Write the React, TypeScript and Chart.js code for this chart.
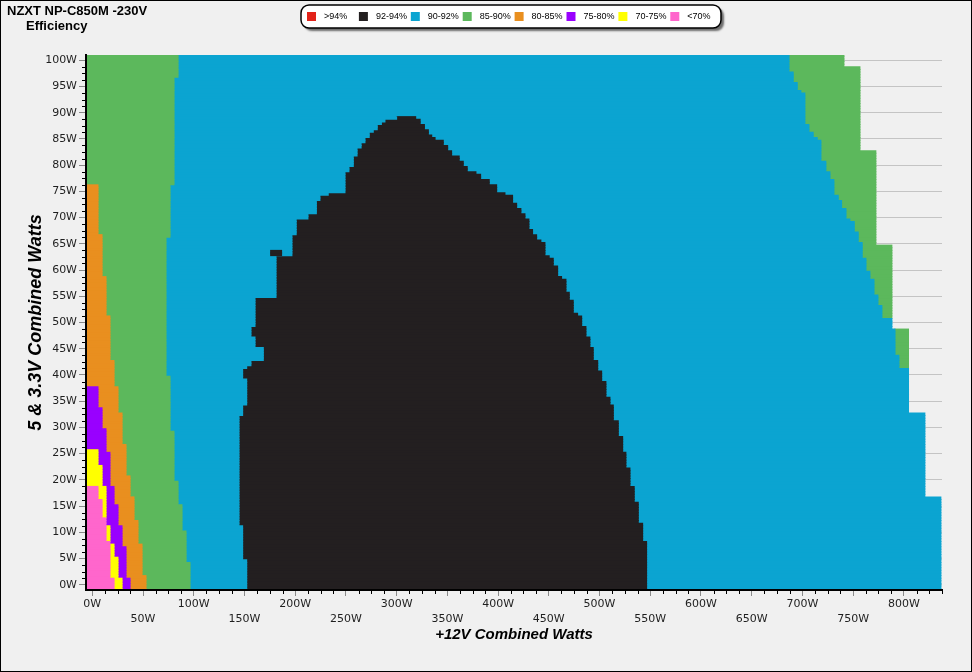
import React, { useEffect, useRef } from 'react';
import { Chart, registerables } from 'chart.js';

Chart.register(...registerables);

// ---------- axis ranges & ticks ----------
const X_MIN = -6.2;
const X_MAX = 837.6;
const Y_MIN = -1;
const Y_MAX = 101;
const ROW_STEP = 0.5;

const xTickValues = [0, 50, 100, 150, 200, 250, 300, 350, 400, 450, 500, 550, 600, 650, 700, 750, 800];
const xTickLabels = ['0W', '50W', '100W', '150W', '200W', '250W', '300W', '350W', '400W', '450W', '500W', '550W', '600W', '650W', '700W', '750W', '800W'];
const yTickValues = [0, 5, 10, 15, 20, 25, 30, 35, 40, 45, 50, 55, 60, 65, 70, 75, 80, 85, 90, 95, 100];
const yTickLabels = ['0W', '5W', '10W', '15W', '20W', '25W', '30W', '35W', '40W', '45W', '50W', '55W', '60W', '65W', '70W', '75W', '80W', '85W', '90W', '95W', '100W'];
const X_MINOR_STEP = 12.5;
const Y_MINOR_STEP = 1.25;

// ---------- legend ----------
const legendLabels = ['>94%', '92-94%', '90-92%', '85-90%', '80-85%', '75-80%', '70-75%', '<70%'];
const legendColors = ['#e2231a', '#231f20', '#0ba4d1', '#5cb85c', '#e98f1f', '#9900ff', '#ffff00', '#ff66cc'];

// ---------- region boundaries ----------
// Each list: [5V&3.3V load (W) from which it applies, +12V load (W) where the colour band ends]
type Step = [number, number | null];

const pinkEnd: Step[] = [[-1, 21.4], [1.5, 17.4], [8.5, 13.5], [12.6, 9.6], [16.1, 5.6], [19.0, null]];
const yellowEnd: Step[] = [[-1, 29.3], [1.1, 25.3], [5.1, 21.4], [7.9, 17.4], [11.1, 13.5], [19.0, 9.6], [23.0, 5.6], [25.9, null]];
const purpleEnd: Step[] = [[-1, 37.2], [1.1, 33.2], [7.1, 29.3], [11.1, 25.3], [15.1, 21.4], [19.0, 17.4], [25.1, 13.5], [29.8, 9.6], [34.0, 5.6], [38.0, null]];
const orangeEnd: Step[] = [[-1, 52.9], [1.9, 49.0], [7.9, 45.0], [12.1, 41.1], [17.0, 37.2], [21.0, 33.2], [27.0, 29.3], [33.0, 25.3], [38.0, 21.4], [43.0, 17.4], [51.1, 13.5], [58.9, 9.6], [67.0, 5.6], [76.1, null]];
const greenEnd: Step[] = [[-1, 96.3], [4.1, 92.4], [10.1, 88.4], [15.2, 84.5], [20.0, 80.5], [29.1, 76.6], [40.0, 72.6], [66.2, 76.6], [76.1, 80.5], [96.6, 84.5]];
const blueEnd: Step[] = [[-1, 152.2], [4.9, 148.2], [11.1, 144.6], [32.1, 148.2], [34.1, 152.2], [39.2, 148.2], [41.1, 152.2], [42.0, 156.4], [43.0, 168.6], [45.5, 160.4], [47.1, 156.4], [49.1, 160.4], [55.0, 181.1], [63.0, 196.8], [67.0, 201.0], [70.0, 212.6], [71.0, 220.9], [73.1, 224.4], [74.1, 232.6], [75.0, 249.1], [79.0, 253.0], [80.0, 257.3], [81.6, 261.0], [83.2, 265.0], [84.1, 268.8], [85.1, 273.0], [86.1, 277.0], [87.0, 280.9], [87.6, 285.0], [88.2, 288.5], [88.6, 292.7], [89.0, 300.0], [89.5, null]];
const blackEnd: Step[] = [[-1, 546.4], [8.1, 542.5], [12.0, 538.2], [16.0, 534.2], [19.0, 530.0], [22.1, 526.0], [25.1, 522.8], [28.1, 518.5], [31.1, 513.6], [34.1, 510.3], [36.0, 506.3], [39.0, 502.1], [41.0, 498.2], [43.0, 493.8], [45.2, 490.5], [47.1, 486.6], [49.2, 482.4], [51.1, 478.4], [52.0, 474.1], [54.1, 470.2], [56.0, 466.9], [58.1, 462.6], [59.0, 458.7], [61.0, 454.4], [62.1, 450.4], [63.0, 446.2], [65.1, 442.2], [66.0, 438.0], [67.0, 434.0], [68.0, 430.4], [70.0, 426.5], [71.0, 422.5], [72.0, 418.3], [73.0, 414.3], [74.1, 406.8], [75.0, 398.6], [76.2, 391.3], [77.1, 382.8], [78.1, 378.2], [79.0, 369.6], [80.0, 365.7], [81.0, 361.7], [81.9, 354.2], [82.9, 350.3], [83.8, 346.0], [84.8, 337.9], [85.2, 334.6], [85.7, 331.3], [86.7, 327.4], [87.6, 323.2], [88.9, 318.8], [89.5, null]];
const blue2End: Step[] = [[-1, 836.5], [16.9, 820.7], [32.9, 804.6], [41.1, 795.1], [44.0, 791.2], [48.9, 788.2], [51.0, 778.3], [53.1, 774.4], [55.1, 770.5], [58.1, 766.5], [60.0, 762.6], [62.1, 758.9], [65.1, 755.0], [67.1, 751.1], [69.2, 746.8], [70.0, 742.9], [72.0, 738.6], [73.1, 735.3], [74.1, 731.0], [77.1, 727.1], [79.0, 723.1], [80.6, 718.2], [84.6, 714.6], [85.5, 710.6], [86.5, 706.4], [87.7, 702.4], [93.7, 698.5], [94.5, 694.9], [95.7, 690.9], [97.6, 686.7]];
const green2End: Step[] = [[-1, null], [41.1, 804.6], [48.9, null], [51.0, 788.2], [65.0, 772.4], [82.9, 756.7], [98.9, 740.9]];

// small isolated 92-94% patch
const blackIslandY = [63.0, 64.0];
const blackIslandX = [175.8, 186.6];

// ---------- build floating bars ----------
const COLORS = {
  pink: '#ff66cc', yellow: '#ffff00', purple: '#9900ff', orange: '#e98f1f',
  green: '#5cb85c', blue: '#0ba4d1', black: '#231f20',
};

const bands: { label: string; steps: Step[]; color: string }[] = [
  { label: '<70%', steps: pinkEnd, color: COLORS.pink },
  { label: '70-75%', steps: yellowEnd, color: COLORS.yellow },
  { label: '75-80%', steps: purpleEnd, color: COLORS.purple },
  { label: '80-85%', steps: orangeEnd, color: COLORS.orange },
  { label: '85-90%', steps: greenEnd, color: COLORS.green },
  { label: '90-92%', steps: blueEnd, color: COLORS.blue },
  { label: '92-94%', steps: blackEnd, color: COLORS.black },
  { label: '90-92% ', steps: blue2End, color: COLORS.blue },
  { label: '85-90% ', steps: green2End, color: COLORS.green },
];

function stepAt(steps: Step[], y: number): number | null {
  let v: number | null = null;
  for (const [from, x] of steps) {
    if (y >= from - 1e-9) v = x;
    else break;
  }
  return v;
}

function buildDatasets() {
  const rowCount = Math.round((Y_MAX - Y_MIN) / ROW_STEP);
  const data: { x: [number, number]; y: number }[][] = bands.map(() => []);
  const island: { x: [number, number]; y: number }[] = [];
  for (let i = 0; i <= rowCount; i++) {
    const y = Y_MIN + i * ROW_STEP;
    let cur = X_MIN;
    bands.forEach((b, bi) => {
      const end = stepAt(b.steps, y);
      if (end === null) return;
      if (end > cur) data[bi].push({ x: [cur, end], y });
      cur = end;
    });
    if (y >= blackIslandY[0] - 1e-9 && y < blackIslandY[1] - 1e-9) {
      island.push({ x: [blackIslandX[0], blackIslandX[1]], y });
    }
  }
  const common = {
    borderWidth: 0,
    barPercentage: 1,
    categoryPercentage: 1,
    grouped: false,
    inflateAmount: 0.5,
  };
  const ds: any[] = [
    { label: '92-94% patch', data: island, backgroundColor: COLORS.black, ...common },
  ];
  bands.forEach((b, bi) => {
    ds.push({ label: b.label, data: data[bi], backgroundColor: b.color, ...common });
  });
  return ds;
}

// ---------- decorations ----------
const decorPlugin = {
  id: 'decor',
  beforeDraw(chart: any) {
    const { ctx, width, height } = chart;
    ctx.save();
    ctx.fillStyle = '#f0f0f0';
    ctx.fillRect(0, 0, width, height);
    ctx.restore();
  },
  afterDraw(chart: any) {
    const { ctx, width, height } = chart;
    const xs = chart.scales.x;
    const ys = chart.scales.y;
    const area = chart.chartArea;
    ctx.save();
    // minor ticks
    ctx.strokeStyle = '#000';
    ctx.lineWidth = 1;
    ctx.beginPath();
    for (let v = 0; v <= X_MAX; v += X_MINOR_STEP) {
      if (Math.abs(v % 50) < 1e-6) continue;
      const px = Math.round(xs.getPixelForValue(v)) + 0.5;
      ctx.moveTo(px, area.bottom + 1);
      ctx.lineTo(px, area.bottom + 4);
    }
    for (let v = 0; v <= 100; v += Y_MINOR_STEP) {
      if (Math.abs(v % 5) < 1e-6) continue;
      const py = Math.round(ys.getPixelForValue(v)) + 0.5;
      ctx.moveTo(area.left - 1, py);
      ctx.lineTo(area.left - 4, py);
    }
    ctx.stroke();

    // title
    ctx.fillStyle = '#000';
    ctx.textBaseline = 'alphabetic';
    ctx.textAlign = 'left';
    ctx.font = 'bold 13px "Liberation Sans", Arial, sans-serif';
    ctx.fillText('NZXT NP-C850M -230V', 7, 15);
    ctx.fillText('Efficiency', 26, 29.5);

    // legend box
    const bx = 301, by = 5, bw = 420, bh = 23, r = 8;
    ctx.save();
    ctx.shadowColor = 'rgba(0,0,0,0.55)';
    ctx.shadowOffsetX = 3;
    ctx.shadowOffsetY = 3;
    ctx.shadowBlur = 2;
    ctx.beginPath();
    ctx.roundRect(bx, by, bw, bh, r);
    ctx.fillStyle = '#ffffff';
    ctx.fill();
    ctx.restore();
    ctx.beginPath();
    ctx.roundRect(bx, by, bw, bh, r);
    ctx.lineWidth = 1.5;
    ctx.strokeStyle = '#000';
    ctx.stroke();

    ctx.font = '9px "Liberation Sans", Arial, sans-serif';
    ctx.textBaseline = 'middle';
    legendLabels.forEach((lab, i) => {
      const sx = 307 + i * 51.9;
      ctx.fillStyle = legendColors[i];
      ctx.fillRect(sx, 12, 9, 9);
      ctx.fillStyle = '#000';
      ctx.fillText(lab, sx + 17, 16.5);
    });

    // frame
    ctx.strokeStyle = '#000';
    ctx.lineWidth = 1;
    ctx.strokeRect(0.5, 0.5, width - 1, height - 1);
    ctx.restore();
  },
};

export default function App() {
  const ref = useRef<HTMLCanvasElement>(null);
  useEffect(() => {
    const canvas = ref.current;
    if (!canvas) return;
    const tickFont = { family: '"DejaVu Sans", Verdana, sans-serif', size: 11 };
    const chart = new Chart(canvas, {
      type: 'bar',
      data: { datasets: buildDatasets() },
      options: {
        indexAxis: 'y',
        responsive: false,
        animation: false,
        devicePixelRatio: 1,
        events: [],
        layout: { padding: { left: 0, top: 55, right: 30, bottom: 0 } },
        plugins: {
          legend: { display: false },
          tooltip: { enabled: false },
          title: { display: false },
        },
        scales: {
          x: {
            type: 'linear',
            position: 'bottom',
            min: X_MIN,
            max: X_MAX,
            offset: false,
            afterBuildTicks: (s: any) => {
              s.ticks = xTickValues.map((v) => ({ value: v }));
            },
            afterFit: (s: any) => {
              s.height = 82;
            },
            grid: {
              drawOnChartArea: false,
              drawTicks: true,
              tickLength: 6,
              tickColor: '#8a8a8a',
              tickWidth: 1,
            },
            border: { display: true, color: '#000', width: 2, z: 1 },
            ticks: {
              autoSkip: false,
              maxRotation: 0,
              minRotation: 0,
              padding: 1,
              color: '#1e1e1e',
              font: { ...tickFont, lineHeight: 1.364 },
              callback: (_v: any, i: number) => (i % 2 === 0 ? xTickLabels[i] : ['', xTickLabels[i]]),
            },
            title: {
              display: true,
              text: '+12V Combined Watts',
              color: '#000',
              font: { family: '"Liberation Sans", Arial, sans-serif', size: 15, weight: 'bold', style: 'italic' },
              padding: { top: 0, bottom: 28 },
            },
          },
          y: {
            type: 'linear',
            position: 'left',
            min: Y_MIN,
            max: Y_MAX,
            offset: false,
            afterBuildTicks: (s: any) => {
              s.ticks = yTickValues.map((v) => ({ value: v }));
            },
            afterFit: (s: any) => {
              s.width = 86;
            },
            grid: {
              offset: false,
              color: '#c4c4c4',
              lineWidth: 1,
              drawTicks: true,
              tickLength: 7,
              tickColor: '#8a8a8a',
              tickWidth: 1,
            },
            border: { display: true, color: '#000', width: 2, z: 1 },
            ticks: {
              autoSkip: false,
              padding: 2,
              color: '#1e1e1e',
              font: tickFont,
              callback: (_v: any, i: number) => yTickLabels[i],
            },
            title: {
              display: true,
              text: '5 & 3.3V Combined Watts',
              color: '#000',
              font: { family: '"Liberation Sans", Arial, sans-serif', size: 18, weight: 'bold', style: 'italic' },
              padding: { top: 25, bottom: 0 },
            },
          },
        },
      } as any,
      plugins: [decorPlugin],
    });
    return () => chart.destroy();
  }, []);
  return (
    <div style={{ position: 'absolute', left: 0, top: 0, width: 972, height: 672, background: '#f0f0f0' }}>
      <canvas ref={ref} width={972} height={672} style={{ display: 'block', width: 972, height: 672 }} />
    </div>
  );
}
